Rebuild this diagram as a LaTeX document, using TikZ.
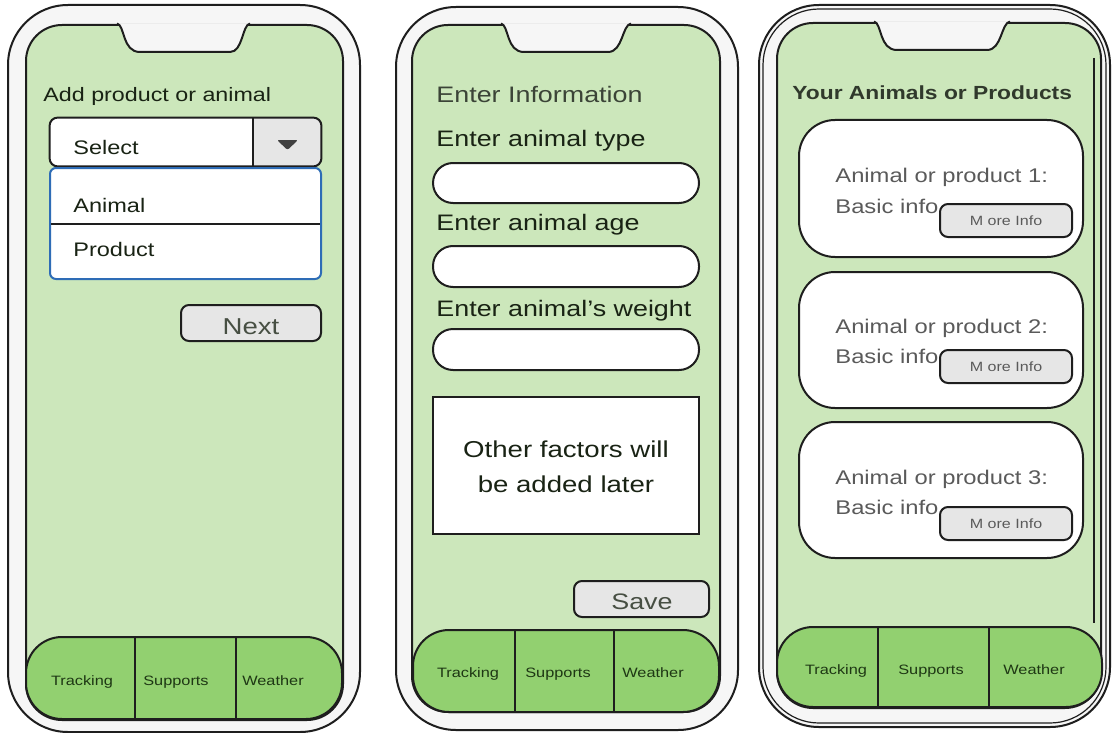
\documentclass[tikz,border=0pt]{standalone}
\usepackage{fontspec}
\setmainfont{Liberation Sans}[FakeStretch=1.2]
\usetikzlibrary{fit}
\definecolor{screengreen}{RGB}{204,231,187}
\definecolor{tabgreen}{RGB}{146,208,112}
\definecolor{phonegray}{RGB}{246,246,246}
\definecolor{btngray}{RGB}{230,230,230}
\definecolor{dropblue}{RGB}{46,108,182}
\definecolor{linedark}{RGB}{30,30,30}
\definecolor{textdark}{RGB}{25,35,20}
\definecolor{tabtext}{RGB}{30,55,20}
\definecolor{cardtext}{RGB}{90,90,90}

\begin{document}
\begin{tikzpicture}[
    x=0.5pt, y=-0.5pt,
    body/.style={draw=linedark, fill=phonegray, line width=1pt,
        rounded corners=30pt, inner sep=0pt},
    screen/.style={draw=linedark, fill=screengreen, line width=1pt,
        rounded corners=18pt, inner sep=0pt},
    tabbar/.style={draw=linedark, fill=tabgreen, line width=1pt,
        rounded corners=18pt, inner sep=0pt},
    entry/.style={draw=linedark, fill=white, line width=1pt,
        rounded corners=10pt, inner sep=0pt},
    btn/.style={draw=linedark, fill=btngray, line width=1pt,
        rounded corners=4pt, inner sep=0pt},
    card/.style={draw=linedark, fill=white, line width=1pt,
        rounded corners=18pt, inner sep=0pt},
    sep/.style={line width=1pt, linedark},
    tablabel/.style={font=\fontsize{6.8}{8}\selectfont, text=tabtext, anchor=base, inner sep=0pt},
    heading/.style={font=\fontsize{9.7}{12}\selectfont, text=textdark, anchor=base west, inner sep=0pt},
    itemtext/.style={font=\fontsize{9.8}{12}\selectfont, text=textdark, anchor=base west, inner sep=0pt},
    formtext/.style={font=\fontsize{11.2}{13}\selectfont, text=textdark, anchor=base west, inner sep=0pt},
    btntext/.style={font=\fontsize{11.2}{13}\selectfont, text=textdark!80, anchor=base, inner sep=0pt},
    cardtext/.style={font=\fontsize{9.9}{12}\selectfont, text=cardtext, anchor=base west, inner sep=0pt},
    moretext/.style={font=\fontsize{6.7}{8}\selectfont, text=cardtext}
]
\useasboundingbox[fill=white] (0,0) rectangle (1113,733);

% Phone 1
\node[body, fit={(8,5) (360,732)}] (body1) {};
\node[screen, fit={(26,25) (343,720)}] (screen1) {};
\draw[sep, fill=phonegray] (117,23.5) .. controls (125,25) and (122,52) .. (140,52)
    -- (230,52) .. controls (243,52) and (242,25) .. (250,23.5);

\node[heading] (title1) at (43,102) {Add product or animal};

% select box
\node[fit={(50,118) (321,166)}, inner sep=0pt, fill=white, rounded corners=4pt] (sel) {};
\begin{scope}
    \clip[rounded corners=4pt] (50,118) rectangle (321,166);
    \fill[btngray] (253,118) rectangle (321,166);
\end{scope}
\draw[sep, rounded corners=4pt] (sel.north west) rectangle (sel.south east);
\draw[sep] (253,118) -- (253,166);
\fill[linedark!85, rounded corners=1pt] (277,140) -- (298,140) -- (287.5,150) -- cycle;
\node[itemtext] (seltext) at (73,155) {Select};

% dropdown list
\node[fit={(50,168) (321,279)}, inner sep=0pt, draw=dropblue, fill=white,
    line width=1pt, rounded corners=3pt] (dd) {};
\draw[sep] (51,224) -- (320,224);
\node[itemtext] (optanimal) at (73,212) {Animal};
\node[itemtext] (optproduct) at (73,256) {Product};

\node[btn, fit={(181,305) (321,341)}] (next) {};
\node[btntext, font=\fontsize{11.5}{13}\selectfont] (nexttext) at (251,334) {Next};

\node[tabbar, fit={(26,637) (342,719)}] (tabs1) {};
\draw[sep] (135,637) -- (135,719);
\draw[sep] (236,637) -- (236,719);
\node[tablabel] (track1) at (82,685) {Tracking};
\node[tablabel] (supp1) at (176,685) {Supports};
\node[tablabel] (weath1) at (273,685) {Weather};

% Phone 2
\node[body, fit={(396,7) (738,730)}] (body2) {};
\node[screen, fit={(412,25) (720,712)}] (screen2) {};
\draw[sep, fill=phonegray] (501,23.5) .. controls (509,25) and (506,52) .. (524,52)
    -- (608,52) .. controls (623,52) and (622,25) .. (631,23.5);

\node[formtext, text=textdark!85] (title2) at (436,103) {Enter Information};
\node[formtext] (typelabel) at (436,147) {Enter animal type};
\node[entry, fit={(433,163) (699,203)}] (typefield) {};
\node[formtext] (agelabel) at (436,230) {Enter animal age};
\node[entry, fit={(433,246) (699,287)}] (agefield) {};
\node[formtext] (weightlabel) at (436,316) {Enter animal's weight};
\node[entry, fit={(433,329) (699,370)}] (weightfield) {};

\node[fit={(433,397) (699,534)}, inner sep=0pt, draw=linedark, fill=white,
    line width=1pt] (factors) {};
\node[btntext, text=textdark, font=\fontsize{11.5}{13}\selectfont] (factorsa) at (566,457) {Other factors will};
\node[btntext, text=textdark, font=\fontsize{11.5}{13}\selectfont] (factorsb) at (566,492) {be added later};

\node[btn, fit={(574,581) (709,617)}] (save) {};
\node[btntext] (savetext) at (642,609) {Save};

\node[tabbar, fit={(413,630) (719,712)}] (tabs2) {};
\draw[sep] (515,630) -- (515,712);
\draw[sep] (614,630) -- (614,712);
\node[tablabel] (track2) at (468,677) {Tracking};
\node[tablabel] (supp2) at (558,677) {Supports};
\node[tablabel] (weath2) at (653,677) {Weather};

% Phone 3
\node[body, fit={(759,5) (1110,727)}] (body3) {};
\node[fit={(763,9) (1106,723)}, inner sep=0pt, draw=linedark, line width=0.6pt,
    rounded corners=28pt] (rim3) {};
\node[screen, fit={(777,23) (1101,708)}] (screen3) {};
\draw[sep, fill=phonegray] (874,21.5) .. controls (882,23) and (879,50) .. (897,50)
    -- (987,50) .. controls (1002,50) and (1001,23) .. (1010,21.5);
\draw[line width=1.2pt, linedark] (1094,58) -- (1094,623);

\node[heading, font=\bfseries\fontsize{9.5}{12}\selectfont, text=textdark!90] (title3) at (792,100) {Your Animals or Products};

\node[card, fit={(799,120) (1083,257)}] (card1) {};
\node[cardtext] (item1) at (835,183) {Animal or product 1:};
\node[cardtext] (basic1) at (835,213) {Basic info};
\node[btn, fit={(940,204) (1072,237)}] (more1) {};
\node[moretext] (moretext1) at (more1.center) {M ore Info};

\node[card, fit={(799,272) (1083,408)}] (card2) {};
\node[cardtext] (item2) at (835,333) {Animal or product 2:};
\node[cardtext] (basic2) at (835,363) {Basic info};
\node[btn, fit={(940,350) (1072,383)}] (more2) {};
\node[moretext] (moretext2) at (more2.center) {M ore Info};

\node[card, fit={(799,422) (1083,558)}] (card3) {};
\node[cardtext] (item3) at (835,484) {Animal or product 3:};
\node[cardtext] (basic3) at (835,514) {Basic info};
\node[btn, fit={(940,507) (1072,540)}] (more3) {};
\node[moretext] (moretext3) at (more3.center) {M ore Info};

\node[tabbar, fit={(777,627) (1102,707)}] (tabs3) {};
\draw[sep] (878,627) -- (878,707);
\draw[sep] (989,627) -- (989,707);
\node[tablabel] (track3) at (836,674) {Tracking};
\node[tablabel] (supp3) at (931,674) {Supports};
\node[tablabel] (weath3) at (1034,674) {Weather};

\end{tikzpicture}
\end{document}
